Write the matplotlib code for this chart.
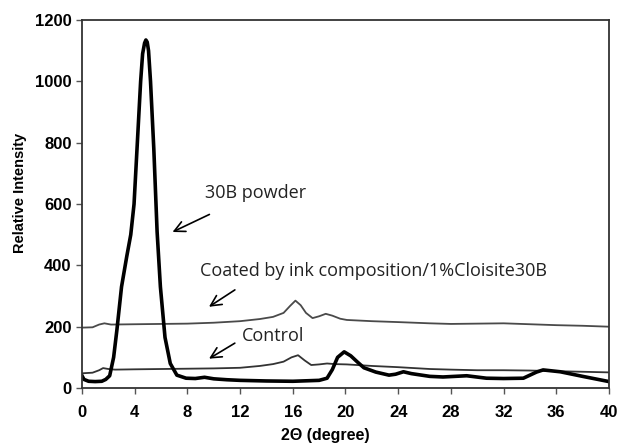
import numpy as np
import matplotlib
matplotlib.use("Agg")
import matplotlib.pyplot as plt

# 30B powder (thick black line)
powder_x = [0, 0.15, 0.5, 1.0, 1.5, 1.8, 2.1, 2.4, 2.65, 3.0, 3.4, 3.7, 3.95, 4.2, 4.45, 4.6,
            4.75, 4.85, 4.95, 5.05, 5.2, 5.45, 5.7, 5.95, 6.3, 6.7, 7.2, 7.9, 8.6, 9.3, 10.0,
            11, 12, 14, 16, 18, 18.6, 19.0, 19.4, 19.9, 20.4, 20.9, 21.4, 22.3, 23.3, 23.8,
            24.4, 25.0, 26.4, 27.4, 29.2, 30.7, 32, 33.5, 34.0, 34.5, 35.0, 36.3, 38, 40]
powder_y = [40, 28, 22, 21, 22, 28, 40, 100, 190, 330, 430, 500, 600, 800, 1000, 1090,
            1125, 1135, 1128, 1100, 1000, 780, 510, 330, 165, 80, 42, 32, 31, 35, 30,
            27, 25, 23, 22, 25, 32, 60, 100, 118, 105, 85, 66, 52, 42, 45,
            53, 47, 38, 36, 40, 32, 31, 32, 42, 52, 59, 53, 38, 21]

# coated by ink composition / 1% Cloisite30B
coated_x = [0, 0.8, 1.3, 1.7, 2.2, 4, 6, 8, 10, 12, 13.5, 14.5, 15.3, 15.8, 16.2, 16.6,
            17.0, 17.5, 18.0, 18.5, 19.0, 19.6, 20.1, 22, 24, 26.4, 28, 30, 32, 34, 36, 38, 40]
coated_y = [197, 198, 207, 211, 207, 208, 209, 210, 213, 218, 225, 232, 245, 268, 285, 270,
            245, 228, 234, 242, 236, 226, 222, 218, 215, 211, 209, 210, 211, 208, 205, 203, 200]

# control
control_x = [0, 0.8, 1.3, 1.6, 2.0, 2.5, 4, 6, 8, 10, 12, 13.5, 14.5, 15.3, 15.9, 16.4,
             16.9, 17.4, 18.0, 18.6, 19.2, 20.1, 22, 24, 26.4, 28, 30, 32, 34, 36, 38, 40]
control_y = [48, 50, 58, 65, 62, 60, 61, 62, 63, 64, 66, 72, 78, 86, 100, 107,
             90, 75, 77, 80, 78, 77, 72, 68, 62, 60, 58, 58, 57, 55, 53, 51]

xticks = np.arange(0, 41, 4)
yticks = np.arange(0, 1201, 200)

fig = plt.figure(figsize=(6.18, 4.46), dpi=100)
ax = fig.add_axes([0.1327, 0.130, 0.8527, 0.825])

ax.plot(coated_x, coated_y, color="#4a4a4a", lw=1.3)
ax.plot(control_x, control_y, color="#333333", lw=1.3)
ax.plot(powder_x, powder_y, color="black", lw=2.6, solid_joinstyle="round")

ax.set_xlim(0, 40)
ax.set_ylim(0, 1200)
ax.set_xticks(xticks)
ax.set_yticks(yticks)
ax.tick_params(direction="out", length=4, width=1, colors="#555555",
               labelcolor="black", labelsize=12)
ax.tick_params(axis="x", pad=8)
for lab in ax.get_xticklabels() + ax.get_yticklabels():
    lab.set_fontweight("bold")
    lab.set_family("Liberation Sans")
for s in ax.spines.values():
    s.set_color("#333333")
    s.set_linewidth(1.3)

ax.set_ylabel("Relative Intensity", fontsize=10.5, fontweight="bold",
              family="Liberation Sans")
ax.yaxis.set_label_coords(-0.105, 0.53)
ax.set_xlabel("2\u0398 (degree)", fontsize=11.5, fontweight="bold",
              family="Liberation Sans")
ax.xaxis.set_label_coords(0.461, -0.11)

txt = dict(fontsize=13, family="Open Sans", color="#222222", va="center")
arr = dict(arrowstyle="->", color="black", lw=1.2, mutation_scale=19)
ax.annotate("", xy=(6.68, 505), xytext=(9.86, 570), arrowprops=arr)
ax.text(9.33, 636, "30B powder", **txt)
ax.annotate("", xy=(9.46, 260), xytext=(11.78, 325), arrowprops=arr)
ax.text(8.95, 381, "Coated by ink composition/1%Cloisite30B", **txt)
ax.annotate("", xy=(9.46, 91), xytext=(11.78, 151), arrowprops=arr)
ax.text(12.12, 170, "Control", **txt)

fig.savefig("out.png", dpi=100)
